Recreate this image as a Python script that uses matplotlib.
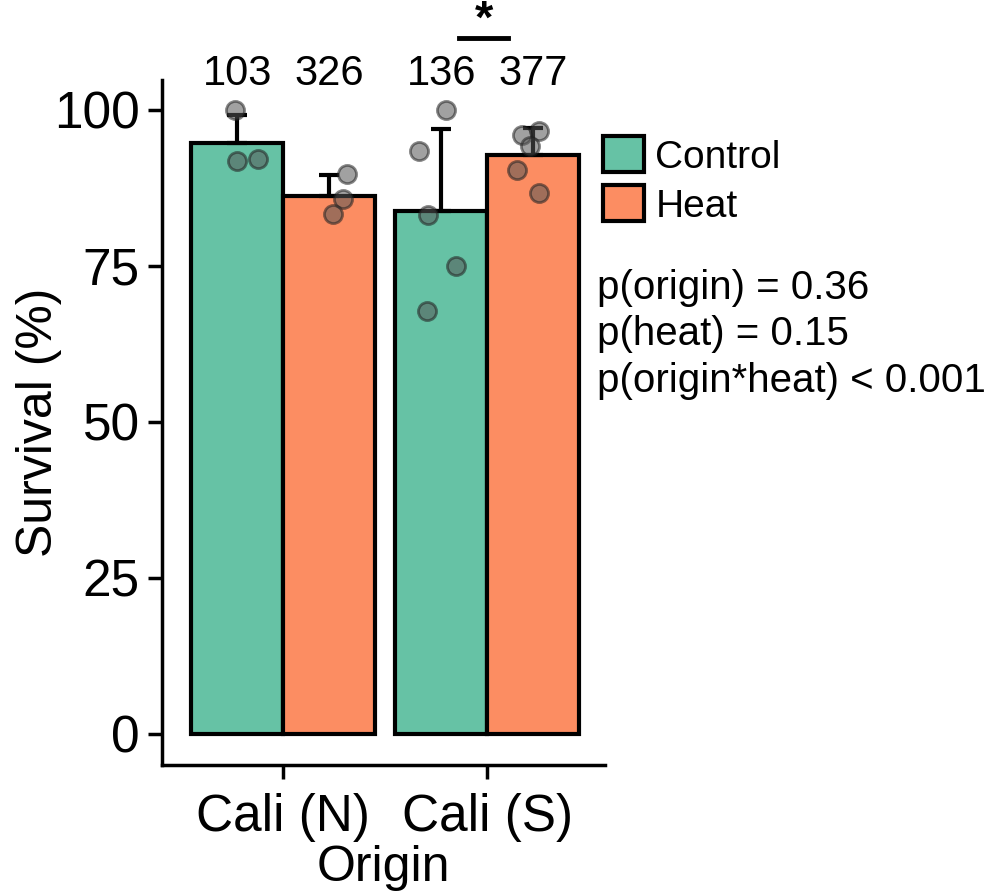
import numpy as np
import matplotlib.pyplot as plt
from matplotlib.patches import Patch

plt.rcParams["font.family"] = ["Liberation Sans", "DejaVu Sans"]

# data
origins = ["Cali (N)", "Cali (S)"]
treatments = ["Control", "Heat"]
colors = ["#66c2a5", "#fc8d62"]
counts = [[103, 326], [136, 377]]

pts_n_control = [100.0, 91.8, 92.1]
pts_n_heat = [89.7, 85.7, 83.3]
pts_s_control = [100.0, 93.4, 83.2, 75.0, 67.8]
pts_s_heat = [96.6, 96.0, 94.2, 90.4, 86.7]
# horizontal jitter of each point (x units)
jit_n_control = [-0.01, 0.0, 0.10]
jit_n_heat = [0.09, 0.07, 0.02]
jit_s_control = [0.025, -0.11, -0.065, 0.075, -0.07]
jit_s_heat = [0.03, -0.055, -0.015, -0.08, 0.03]

points = [[pts_n_control, pts_n_heat], [pts_s_control, pts_s_heat]]
jitter = [[jit_n_control, jit_n_heat], [jit_s_control, jit_s_heat]]
sd = [[4.6, 3.3], [13.1, 4.3]]

fig = plt.figure(figsize=(9.97, 8.94), dpi=100)
ax = fig.add_axes([0.1625, 0.1443, 0.4443, 0.7662])

width = 0.45
for i, org in enumerate(origins):
    for j, trt in enumerate(treatments):
        xc = (i + 1) + (j - 0.5) * width
        vals = np.array(points[i][j])
        m = vals.mean()
        ax.bar(xc, m, width=width, color=colors[j], edgecolor="black",
               linewidth=3, zorder=2)
        ax.errorbar(xc, m, yerr=[[0], [sd[i][j]]], color="black",
                    elinewidth=3, capsize=7, capthick=3, zorder=3)
        ax.scatter(xc + np.array(jitter[i][j]), vals, s=170,
                   color="#555555", edgecolor="#222222", linewidth=2,
                   alpha=0.55, zorder=4)
        ax.text(xc, 102.6, str(counts[i][j]), ha="center", va="bottom",
                fontsize=30, clip_on=False)

# significance bar for Cali (S)
ax.plot([1.863, 2.103], [111.5, 111.5], color="black", lw=3.5, clip_on=False)
ax.text(1.985, 110.8, "*", ha="center", va="bottom", fontsize=34,
        fontweight="bold", clip_on=False)

ax.set_xlim(0.407, 2.578)
ax.set_ylim(-5, 104.8)
ax.set_yticks([0, 25, 50, 75, 100])
ax.set_xticks([1, 2])
ax.set_xticklabels(origins)
ax.tick_params(axis="both", labelsize=37, width=2.5, length=10, pad=6)
ax.tick_params(axis="x", pad=10)
ax.set_ylabel("Survival (%)", fontsize=36, labelpad=-6)
ax.set_xlabel("Origin", fontsize=36, labelpad=2)
for s in ["top", "right"]:
    ax.spines[s].set_visible(False)
for s in ["left", "bottom"]:
    ax.spines[s].set_linewidth(2.5)

handles = [Patch(facecolor=c, edgecolor="black", linewidth=3, label=t)
           for c, t in zip(colors, treatments)]
fig.legend(handles=handles, loc="upper left", bbox_to_anchor=(0.589, 0.865),
           frameon=False, fontsize=28, handlelength=1.05, handleheight=1.05,
           handletextpad=0.3, labelspacing=0.25, borderaxespad=0)

fig.text(0.599, 0.699, "p(origin) = 0.36\np(heat) = 0.15\np(origin*heat) < 0.001",
         fontsize=29, va="top", ha="left", linespacing=1.28)

fig.savefig("out.png", dpi=100)
